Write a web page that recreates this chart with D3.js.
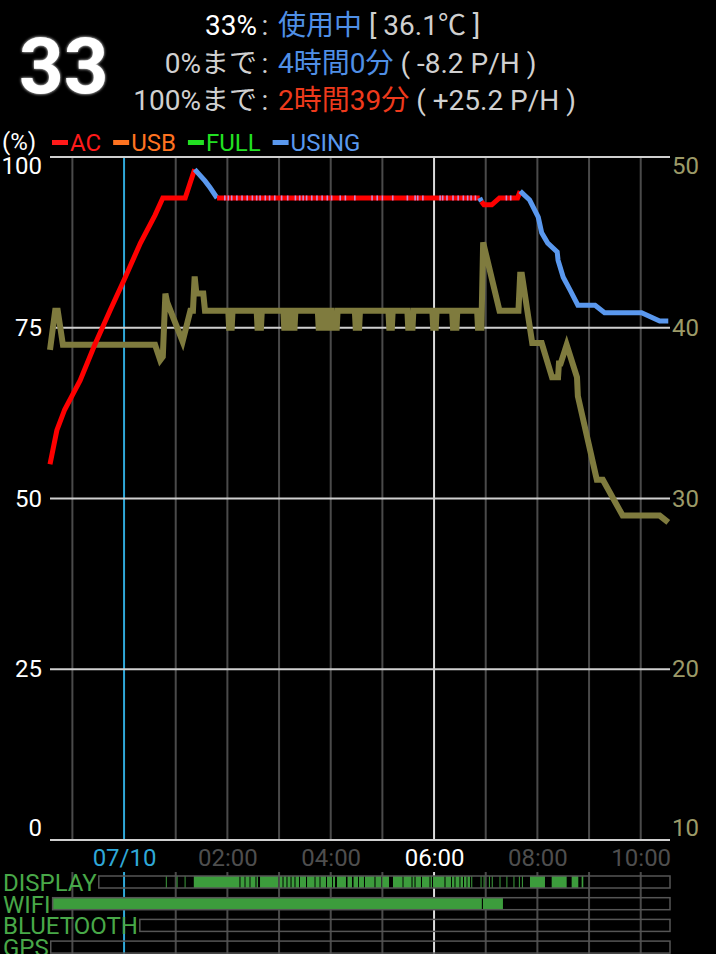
<!DOCTYPE html>
<html><head><meta charset="utf-8">
<script src="https://cdn.jsdelivr.net/npm/d3@7"></script>
<style>
html,body{margin:0;padding:0;background:#000;}
svg{display:block;}
text{font-family:Roboto,"Noto Sans CJK JP",sans-serif;}
</style>
</head><body>
<svg id="c" width="716" height="954"></svg>
<script>
// ---------------- DATA ----------------
// time in minutes from 07/10 00:00
const timeDomain = [-86, 634];
const hourTicks = [-60, 0, 60, 120, 180, 240, 300, 360, 420, 480, 540, 600];
const timeLabelTicks = [0, 120, 240, 360, 480, 600];
const timeLabels = ["07/10", "02:00", "04:00", "06:00", "08:00", "10:00"];

const pctTicks = [0, 25, 50, 75, 100];
const tempTicks = [10, 20, 30, 40, 50];

const batteryTimes  = [-86,-78,-69,-51,-34,-16,0,19,36,45,71,77,82,94,100,108,413,415,418,427,436,457,460,471,481,485,492,503,504,510,518,527,547,558,601,622,632];
const batteryLevels = [55,60,63,67.3,72.5,77.6,82,87.4,91.5,94,94,96.3,98.2,96.5,95.5,94,94,93.5,93,93,94,94,95,93.7,91.2,88.9,87.4,86.1,84.9,82.4,80.5,78.3,78.3,77.2,77.2,76,76];
const batteryStates = ["AC","AC","AC","AC","AC","AC","AC","AC","AC","AC","AC","AC","AC","USING","USING","USING","AC","USING","AC","AC","AC","AC","AC","USING","USING","USING","USING","USING","USING","USING","USING","USING","USING","USING","USING","USING","USING"];
// short "USING" samples inside the long AC plateau
const usingTicks = [117,121,125,131,137,143,149,154,158,164,169,175,183,190,199,204,208,212,218,224,230,236,241,251,257,268,288,294,300,312,329,338,341,347,367,370,375,382,388,394,399,403,408,444,449];

const tempTimes  = [-86,-80,-77,-71,36,42,45,48,50,68,77,80,82,84,92,94,
  121,122,125,126, 154,155,159,160, 185,186,188,189, 193,194,198,199,
  225,226,229,230, 233,234,236,237, 241,242,247,248, 268,269,273,274,
  307,308,311,312, 329,330,335,336, 358,359,362,363, 381,382,386,387,
  410,411,415,417,436,456,458,460,462,474,485,497,504,505,507,514,526,527,549,556,579,622,632];
const tempValues = [38.7,41.0,41.0,39.0,39.0,38.1,38.3,42.0,41.5,39.2,41.0,41.0,43.0,42.0,42.0,41.0,
  41,40,40,41, 41,40,40,41, 41,40,40,41, 41,40,40,41,
  41,40,40,41, 41,40,40,41, 41,40,40,41, 41,40,40,41,
  41,40,40,41, 41,40,40,41, 41,40,40,41, 41,40,40,41,
  41,40,40,45.0,41.0,41.0,41.0,43.1,43.1,39.1,39.1,37.1,37.1,37.9,37.9,39.0,37.1,36.0,31.1,31.1,29.0,29.0,28.6];

const statusRows = ["DISPLAY", "WIFI", "BLUETOOTH", "GPS"];
const displayOn = [[48.5,49.5],[61,62],[70.3,71.3],[81,134],[135.2,139.9],[141,145.7],[146.8,152.6],[153.8,155.5],
  [157.9,178.8],[181,184],[185.2,188.6],[189.8,193.3],[194.5,197.9],[199.1,203.2],[204.3,211.3],[212.5,221.2],
  [222.3,227],[228.1,234.5],[235.7,241.5],[242.6,245],[247.3,257.7],[259.5,264.7],[266.5,271.7],[272.8,278.6],
  [279.8,290.8],[292,298.4],[300.1,307.7],[312.3,323.4],[324.5,333.8],[335,337.3],[338.5,344.8],[346,354.7],
  [355.9,357.6],[358.8,372.1],[373.3,379.7],[380.8,383.7],[384.9,389.5],[390.7,393.6],[394.8,397.7],[398.8,401.7],
  [403.2,404.2],[414,415],[417.5,418.5],[423.7,424.7],[427,428],[436,437],[444,445],[452.2,453.2],[458.5,459.5],[462,463],
  [471.4,488.8],[496.6,514],[519.8,527.5],[531.4,533.3]];
const wifiOn = [[-86,415.5],[416.8,440]];
const btOn = [];
const gpsOn = [];

// ---------------- CHART ----------------
const svg = d3.select("#c");
const x = d3.scaleLinear().domain(timeDomain).range([50, 670]);
const yB = d3.scaleLinear().domain([0, 100]).range([840, 157]);
const yT = d3.scaleLinear().domain([10, 50]).range([840, 157]);

const FONT = 'Roboto,"Noto Sans CJK JP",sans-serif';

// header
svg.append("defs").html(
  '<filter id="glow" x="-20%" y="-20%" width="140%" height="140%"><feGaussianBlur stdDeviation="1.8" result="b"/><feMerge><feMergeNode in="b"/><feMergeNode in="SourceGraphic"/></feMerge></filter>');
svg.append("text").attr("x", 19).attr("y", 93).attr("fill", "#fff")
  .attr("font-size", 78).attr("font-weight", "bold").attr("filter", "url(#glow)").text("33");

const header = [
  {y: 35, left: [["33%", "#ffffff"]], right: [["使用中", "#4f8fe6"], [" [ 36.1℃ ]", "#d0d0d0"]]},
  {y: 73, left: [["0%まで", "#d0d0d0"]], right: [["4時間0分", "#4f8fe6"], [" ( -8.2 P/H )", "#d0d0d0"]]},
  {y: 110, left: [["100%まで", "#d0d0d0"]], right: [["2時間39分", "#ee3a1c"], [" ( +25.2 P/H )", "#d0d0d0"]]}
];
header.forEach(h => {
  const l = svg.append("text").attr("x", 257).attr("y", h.y).attr("text-anchor", "end").attr("font-size", 28);
  h.left.forEach(p => l.append("tspan").attr("fill", p[1]).text(p[0]));
  svg.append("text").attr("x", 265).attr("y", h.y).attr("text-anchor", "middle").attr("font-size", 28).attr("fill", "#d0d0d0").text(":");
  const r = svg.append("text").attr("x", 278).attr("y", h.y).attr("font-size", 28);
  h.right.forEach(p => r.append("tspan").attr("fill", p[1]).text(p[0]));
});

// legend
svg.append("text").attr("x", 2).attr("y", 150).attr("fill", "#fff").attr("font-size", 24).text("(%)");
const legend = [["AC", "#ff1a1a"], ["USB", "#ff7320"], ["FULL", "#22e022"], ["USING", "#5a98ee"]];
let lx = 52;
legend.forEach(([name, col]) => {
  svg.append("rect").attr("x", lx).attr("y", 140).attr("width", 16).attr("height", 5).attr("fill", col);
  const t = svg.append("text").attr("x", lx + 18).attr("y", 151).attr("fill", col).attr("font-size", 24).text(name);
  lx += 18 + t.node().getComputedTextLength() + 12;
});

// vertical grid (plot + status region)
const vcol = d => d === 0 ? "#2fa8d8" : (d === 360 ? "#dcdcdc" : "#4a4a4a");
[[157, 840], [872, 954]].forEach(([y0, y1]) => {
  svg.append("g").selectAll("line").data(hourTicks).join("line")
    .attr("x1", d => x(d)).attr("x2", d => x(d)).attr("y1", y0).attr("y2", y1)
    .attr("stroke", vcol).attr("stroke-width", 2);
});

// horizontal grid
svg.append("g").selectAll("line").data(pctTicks).join("line")
  .attr("x1", 50).attr("x2", 670).attr("y1", d => yB(d)).attr("y2", d => yB(d))
  .attr("stroke", "#cfcfcf").attr("stroke-width", 2);

// left axis labels
const gL = svg.append("g").attr("transform", "translate(44,0)")
  .call(d3.axisLeft(yB).tickValues(pctTicks).tickSize(0).tickPadding(2));
gL.select(".domain").remove();
gL.selectAll("text").attr("fill", "#fff").attr("font-size", 24).attr("font-family", FONT)
  .attr("dy", d => d === 100 ? "0.68em" : d === 0 ? "-0.2em" : "0.32em");

// right axis labels
const gR = svg.append("g").attr("transform", "translate(670,0)")
  .call(d3.axisRight(yT).tickValues(tempTicks).tickSize(0).tickPadding(2));
gR.select(".domain").remove();
gR.selectAll("text").attr("fill", "#9c9a68").attr("font-size", 24).attr("font-family", FONT)
  .attr("dy", d => d === 50 ? "0.68em" : d === 10 ? "-0.2em" : "0.32em");

// bottom time labels
const gB = svg.append("g").attr("transform", "translate(0,845)")
  .call(d3.axisBottom(x).tickValues(timeLabelTicks).tickSize(0).tickPadding(4)
    .tickFormat((d, i) => timeLabels[i]));
gB.select(".domain").remove();
gB.selectAll("text").attr("font-size", 24).attr("font-family", FONT)
  .attr("fill", d => d === 0 ? "#2fa8d8" : d === 360 ? "#ffffff" : "#4e4e4e");

// temperature line
const temps = tempTimes.map((t, i) => ({t, v: tempValues[i]}));
svg.append("path").datum(temps)
  .attr("d", d3.line().x(d => x(d.t)).y(d => yT(d.v)))
  .attr("fill", "none").attr("stroke", "#7f7b3e").attr("stroke-width", 6).attr("stroke-linejoin", "miter");

// battery line (runs by state)
const stateColor = {AC: "#ff0000", USB: "#ff7320", FULL: "#22e022", USING: "#5a98ee"};
const bat = batteryTimes.map((t, i) => ({t, v: batteryLevels[i], s: batteryStates[i]}));
const runs = [];
for (let i = 1; i < bat.length; i++) {
  const s = bat[i].s;
  if (runs.length && runs[runs.length - 1].s === s) runs[runs.length - 1].pts.push(bat[i]);
  else runs.push({s, pts: [bat[i - 1], bat[i]]});
}
const bl = d3.line().x(d => x(d.t)).y(d => yB(d.v));
svg.append("g").selectAll("path").data(runs).join("path")
  .attr("d", d => bl(d.pts)).attr("fill", "none")
  .attr("stroke", d => stateColor[d.s]).attr("stroke-width", 5);
svg.append("g").selectAll("rect").data(usingTicks).join("rect")
  .attr("x", d => x(d) - 0.8).attr("width", 1.6)
  .attr("y", yB(94) - 2.5).attr("height", 5).attr("fill", "#c48ad6");

// status rows
const rowData = {DISPLAY: displayOn, WIFI: wifiOn, BLUETOOTH: btOn, GPS: gpsOn};
statusRows.forEach((name, i) => {
  const top = 876 + i * 21.7;
  const t = svg.append("text").attr("x", 3).attr("y", top + 15).attr("fill", "#48a848")
    .attr("font-size", 24).attr("textLength", null).text(name);
  const x0 = 3 + t.node().getComputedTextLength() + 2;
  svg.append("g").selectAll("rect").data(rowData[name]).join("rect")
    .attr("x", d => Math.max(x0, x(d[0]))).attr("y", top)
    .attr("width", d => Math.max(1, x(d[1]) - Math.max(x0, x(d[0]))))
    .attr("height", 12).attr("fill", "#3c9c3c");
  svg.append("rect").attr("x", x0).attr("y", top).attr("width", 670 - x0).attr("height", 12)
    .attr("fill", "none").attr("stroke", "#555").attr("stroke-width", 1.5);
});
</script>
</body></html>
